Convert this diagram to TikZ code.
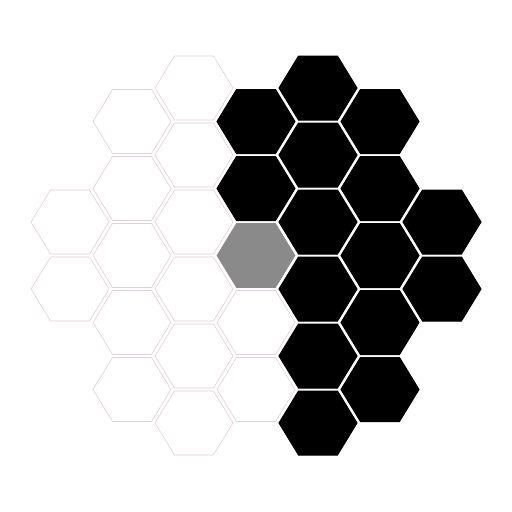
\documentclass[tikz,border=0pt]{standalone}
\usetikzlibrary{calc}

\definecolor{rimpink}{RGB}{226,208,212}
\definecolor{markgray}{RGB}{138,138,138}

\tikzset{
  free/.style={draw=rimpink,fill=white,line width=0.6pt},
  taken/.style={draw=black,fill=black,line width=1pt},
  last/.style={draw=markgray,fill=markgray,line width=0.6pt},
}
% one flat-topped cell round (#1,#2)
\newcommand{\hexcell}[3]{%
  \draw[#3] (#1,#2) ++(39,0) -- ++(-19.5,32) -- ++(-39,0) -- ++(-19.5,-32)
    -- ++(19.5,-32) -- ++(39,0) -- cycle;}

\begin{document}
\begin{tikzpicture}[x=1pt,y=-1pt]
    \useasboundingbox (0,0) rectangle (512,512);
    \foreach \c/\r/\s in {0/2/free,0/3/free,
        1/0/free,1/1/free,1/2/free,1/3/free,1/4/free,
        2/0/free,2/1/free,2/2/free,2/3/free,2/4/free,2/5/free,
        3/0/taken,3/1/taken,3/2/last,3/3/free,3/4/free,
        4/0/taken,4/1/taken,4/2/taken,4/3/taken,4/4/taken,4/5/taken,
        5/0/taken,5/1/taken,5/2/taken,5/3/taken,5/4/taken,
        6/2/taken,6/3/taken}
    {
      \pgfmathsetmacro{\cx}{70+62*\c}
      \pgfmathsetmacro{\cy}{88+67*\r+33.5*mod(\c,2)}
      \hexcell{\cx}{\cy}{\s}
    }
  \end{tikzpicture}
\end{document}
